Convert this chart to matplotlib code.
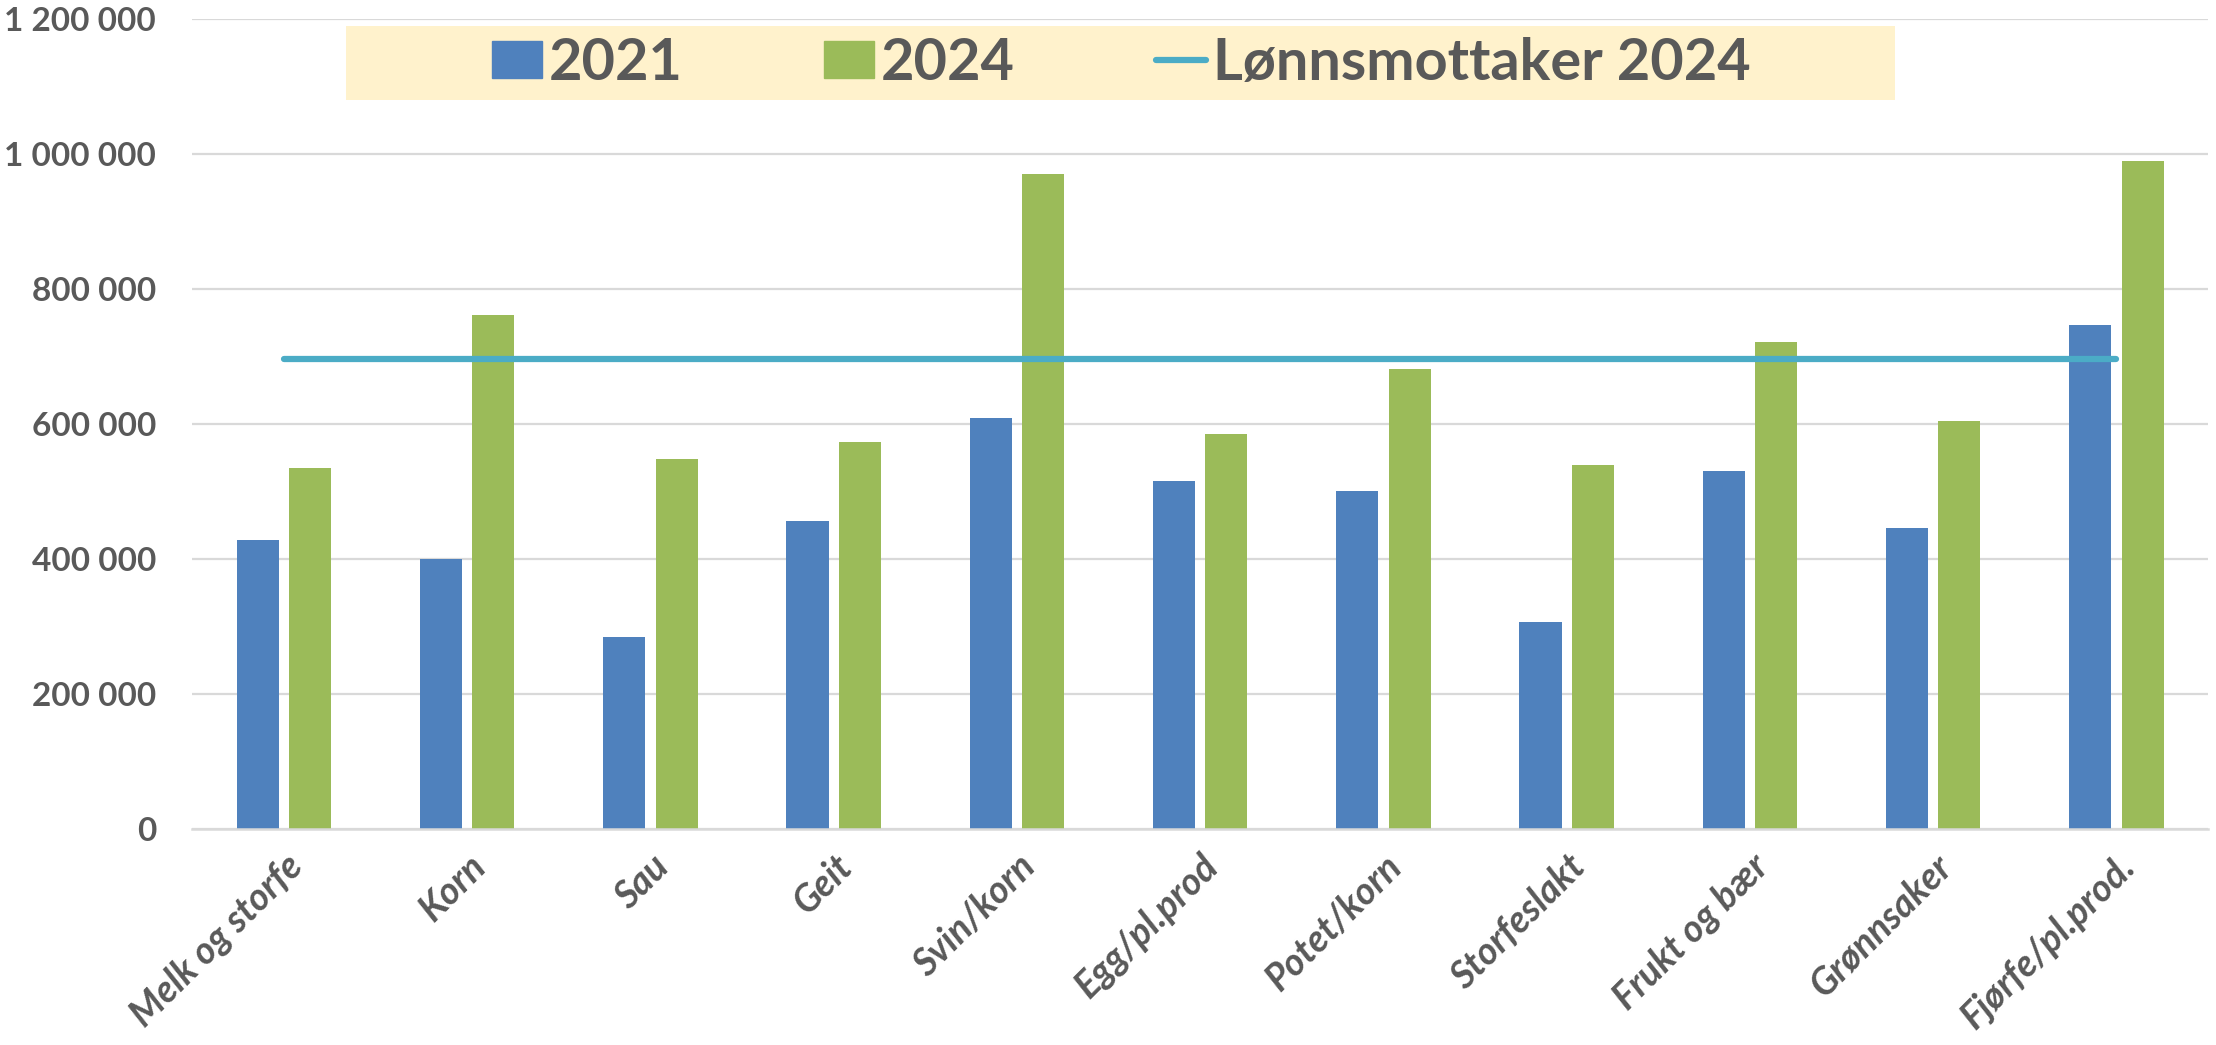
import matplotlib.pyplot as plt
from matplotlib.patches import Rectangle
from matplotlib.lines import Line2D

plt.rcParams["font.family"] = ["Lato", "DejaVu Sans"]

# data
kategorier = ["Melk og storfe", "Korn", "Sau", "Geit", "Svin/korn", "Egg/pl.prod",
              "Potet/korn", "Storfeslakt", "Frukt og bær", "Grønnsaker", "Fjørfe/pl.prod."]
verdi_2021 = [428000, 400000, 285000, 457000, 609000, 515000,
              501000, 307000, 530000, 446000, 746000]
verdi_2024 = [535000, 761000, 548000, 574000, 970000, 585000,
              682000, 540000, 721000, 604000, 990000]
lonnsmottaker_2024 = [697000] * len(kategorier)
y_ticks = [0, 200000, 400000, 600000, 800000, 1000000, 1200000]

blue = "#4F81BD"
green = "#9BBB59"
teal = "#4BACC6"
textgrey = "#595959"

fig = plt.figure(figsize=(22.16, 10.45), dpi=100)
ax = fig.add_axes([0.0868, 0.2067, 0.9096, 0.7751])

x = list(range(len(kategorier)))
w = 0.23
off = 0.143
ax.bar([i - off for i in x], verdi_2021, width=w, color=blue, zorder=2, label="2021")
ax.bar([i + off for i in x], verdi_2024, width=w, color=green, zorder=2, label="2024")
ax.plot(x, lonnsmottaker_2024, color=teal, lw=4.5, solid_capstyle="round", zorder=3)

ax.set_xlim(-0.5, len(kategorier) - 0.5)
ax.set_ylim(0, 1200000)
ax.set_yticks(y_ticks)
ax.set_yticklabels([f"{v:,}".replace(",", " ") for v in y_ticks],
                   fontsize=24, fontweight="bold", color=textgrey)
ax.set_xticks(x)
ax.set_xticklabels(kategorier, rotation=45, ha="right", rotation_mode="anchor",
                   fontsize=27, fontweight="bold", fontstyle="italic", color=textgrey)
ax.tick_params(axis="y", length=0, pad=26)
ax.tick_params(axis="x", length=0, pad=14)
ax.grid(axis="y", color="#D9D9D9", lw=1.6, zorder=0)
ax.set_axisbelow(True)
for s in ["top", "right", "left"]:
    ax.spines[s].set_visible(False)
ax.spines["bottom"].set_color("#D9D9D9")
ax.spines["bottom"].set_linewidth(1.8)

# legend with light yellow background
fig.patches.append(Rectangle((346 / 2216, 1 - 100 / 1045), 1549 / 2216, 74 / 1045,
                             transform=fig.transFigure, facecolor="#FFF2CC",
                             edgecolor="none", zorder=1))
handles = [Rectangle((0, 0), 1, 1, color=blue), Rectangle((0, 0), 1, 1, color=green),
           Line2D([], [], color=teal, lw=4.5, solid_capstyle="round")]
leg = fig.legend(handles, ["2021", "2024", "Lønnsmottaker 2024"], ncol=3, frameon=False,
                 loc="center left", bbox_to_anchor=(492 / 2216, 1 - 63 / 1045),
                 prop={"size": 41.5, "weight": "bold"}, labelcolor=textgrey,
                 handlelength=0.87, handleheight=0.62, handletextpad=0.12,
                 columnspacing=2.45, borderpad=0, borderaxespad=0)

fig.savefig("out.png", dpi=100, facecolor="white")
